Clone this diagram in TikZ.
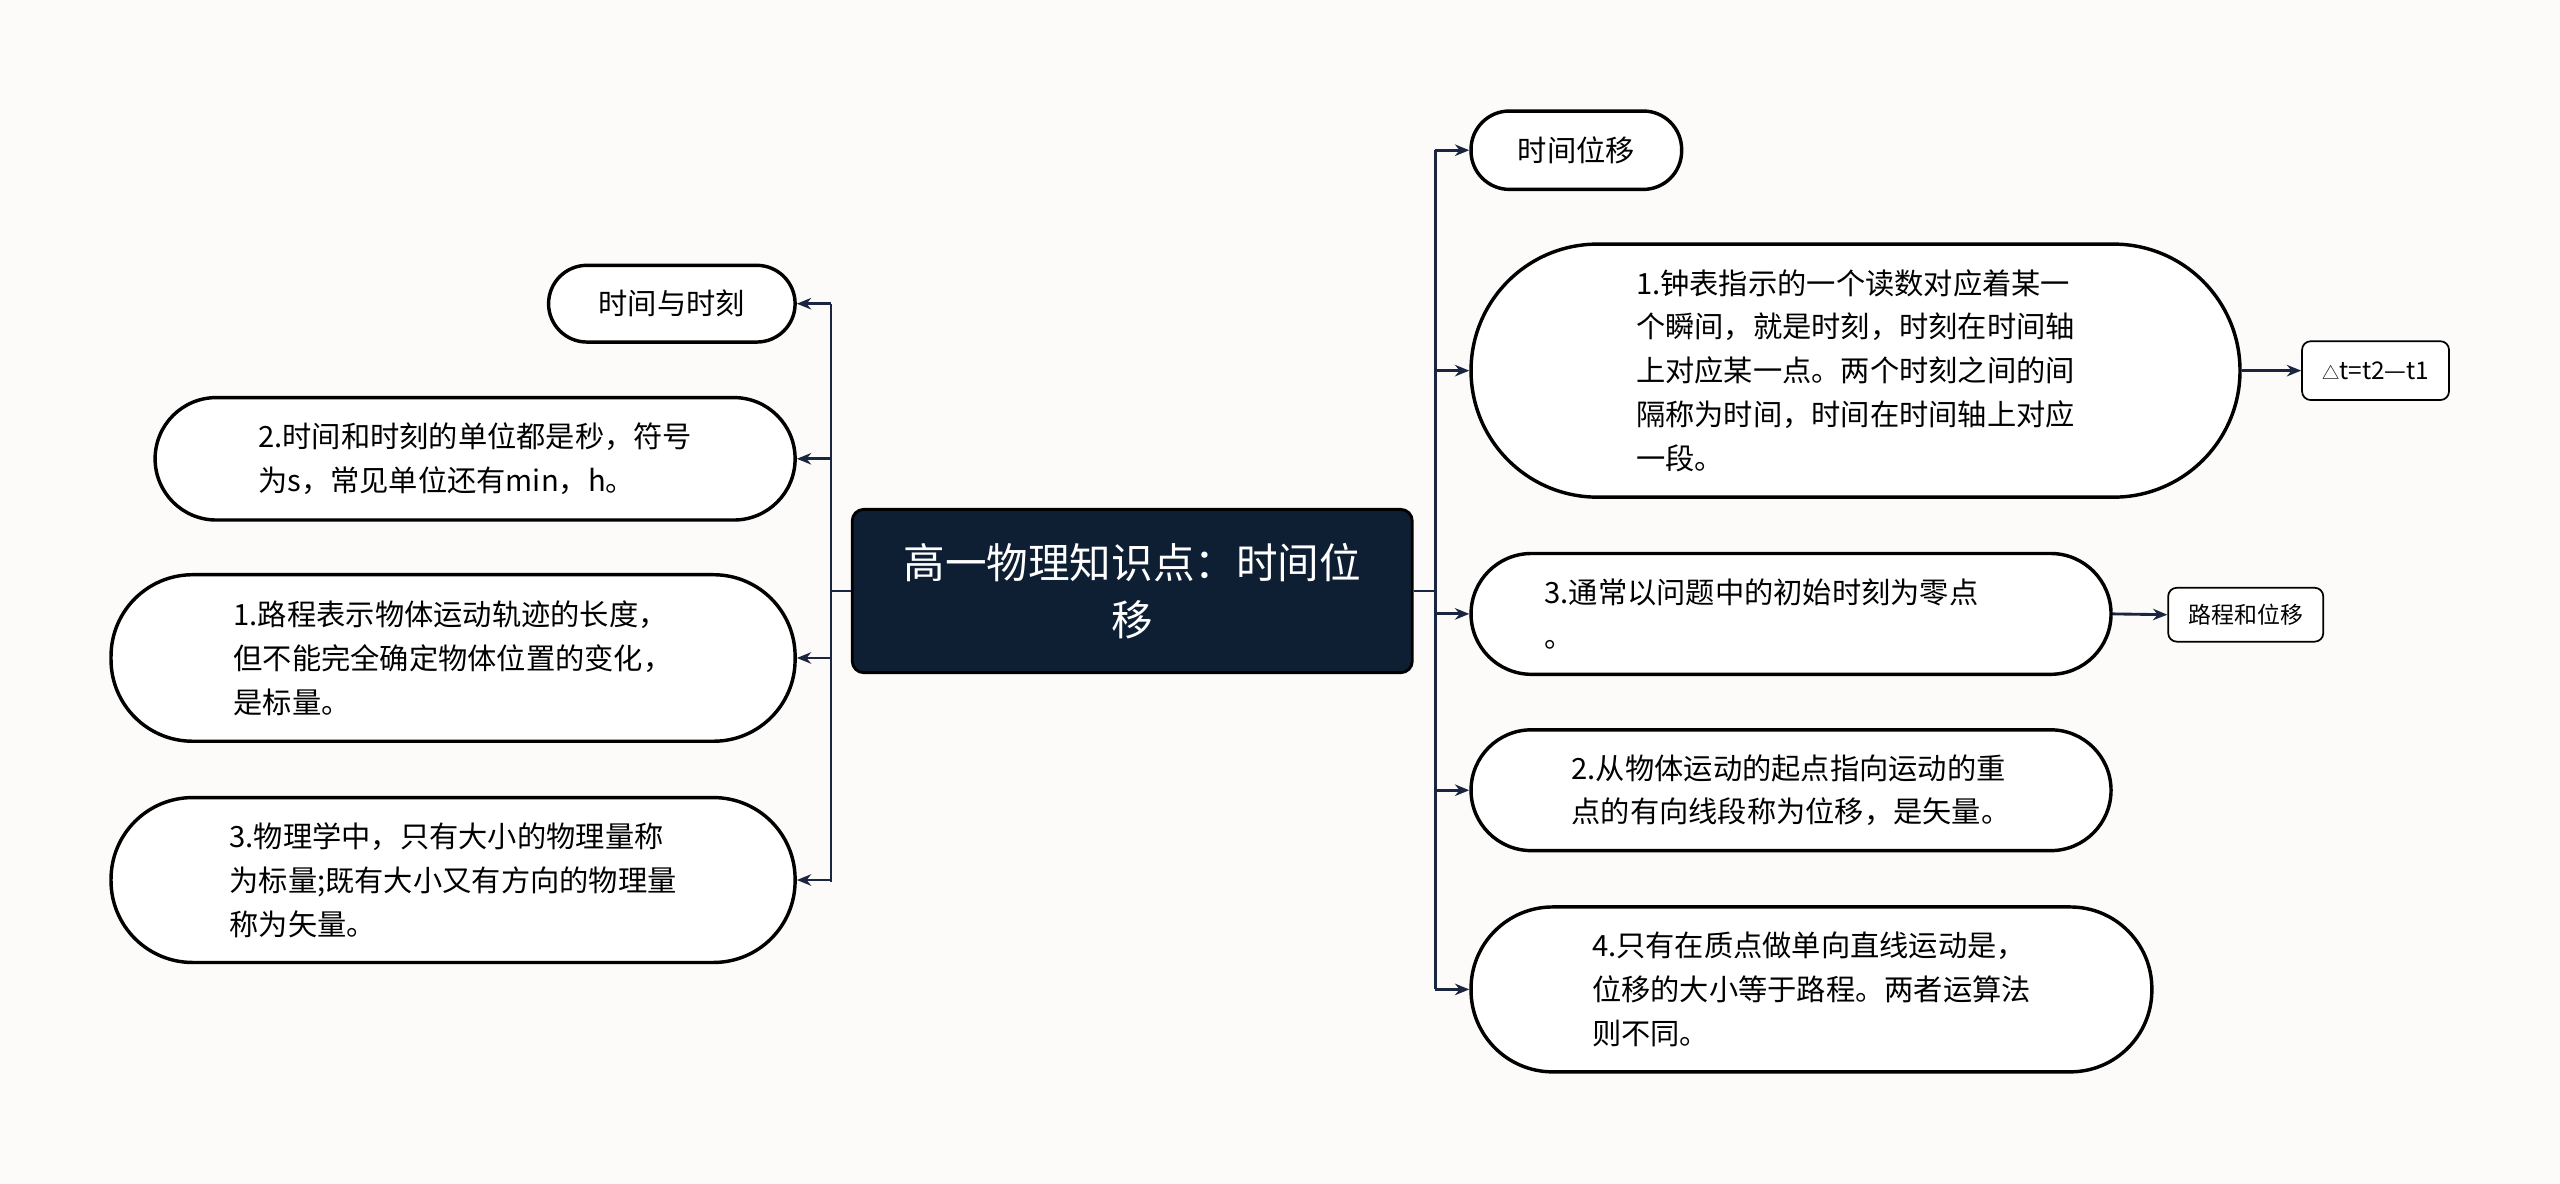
\documentclass[tikz,border=0pt]{standalone}
\usepackage{fontspec}
\setmainfont{Noto Sans CJK SC}
\usetikzlibrary{arrows.meta}
\definecolor{bg}{HTML}{FCFBF9}
\definecolor{navy}{HTML}{0F1F33}
\definecolor{ln}{HTML}{1A2540}
\begin{document}
\begin{tikzpicture}[x=0.02cm,y=-0.02cm,
  pill/.style={draw=black,line width=1.2pt,fill=white,rounded corners=#1,align=left,inner sep=0pt,font=\fontsize{10.2pt}{15.3pt}\selectfont},
  small/.style={draw=black,line width=0.6pt,fill=white,rounded corners=3pt,inner sep=3pt,font=\fontsize{8pt}{10pt}\selectfont},
  conn/.style={draw=ln,line width=1pt},
  arr/.style={conn,-{Stealth[length=5pt,width=4pt]}}]
\fill[bg] (0,0) rectangle (1568,725);
\node[fill=navy,draw=black,line width=1pt,rounded corners=4pt,minimum width=343*0.02cm,minimum height=100*0.02cm,text=white,align=center,font=\fontsize{14.5pt}{20pt}\selectfont] (c) at (693.5,362) {高一物理知识点：时间位\\移};
% left
\node[pill=0.47cm,minimum width=151*0.02cm,minimum height=47*0.02cm] (l1) at (411.5,186) {时间与时刻};
\node[pill=0.75cm,minimum width=392*0.02cm,minimum height=75*0.02cm] (l2) at (291,281) {2.时间和时刻的单位都是秒，符号\\为s，常见单位还有min，h。};
\node[pill=1.0cm,minimum width=419*0.02cm,minimum height=102*0.02cm] (l3) at (277.5,403) {1.路程表示物体运动轨迹的长度，\\但不能完全确定物体位置的变化，\\是标量。};
\node[pill=1.0cm,minimum width=419*0.02cm,minimum height=101*0.02cm] (l4) at (277.5,539) {3.物理学中，只有大小的物理量称\\为标量;既有大小又有方向的物理量\\称为矢量。};
\coordinate (lt) at (509,362);
\draw[conn] (c.west) -- (lt);
\draw[conn] (509,186) -- (509,540);
\foreach \n/\y in {l1/186,l2/281,l3/403,l4/539}
  \draw[arr] (509,\y) -- (\n.east);
% right
\node[pill=0.47cm,minimum width=129*0.02cm,minimum height=48*0.02cm] (r1) at (965.5,92) {时间位移};
\node[pill=1.55cm,minimum width=471*0.02cm,minimum height=155*0.02cm] (r2) at (1136.5,227) {1.钟表指示的一个读数对应着某一\\个瞬间，就是时刻，时刻在时间轴\\上对应某一点。两个时刻之间的间\\隔称为时间，时间在时间轴上对应\\一段。};
\node[pill=0.74cm,minimum width=392*0.02cm,minimum height=74*0.02cm,text width=302*0.02cm] (r3) at (1097,376) {3.通常以问题中的初始时刻为零点\\。};
\node[pill=0.74cm,minimum width=392*0.02cm,minimum height=74*0.02cm] (r4) at (1097,484) {2.从物体运动的起点指向运动的重\\点的有向线段称为位移，是矢量。};
\node[pill=1.0cm,minimum width=417*0.02cm,minimum height=101*0.02cm] (r5) at (1109.5,606) {4.只有在质点做单向直线运动是，\\位移的大小等于路程。两者运算法\\则不同。};
\draw[conn] (c.east) -- (879,362);
\draw[conn] (879,92) -- (879,606);
\foreach \n/\y in {r1/92,r2/227,r3/376,r4/484,r5/606}
  \draw[arr] (879,\y) -- (\n.west);
\node[small,minimum width=90*0.02cm,minimum height=36*0.02cm] (d1) at (1455,227) {\fontsize{6pt}{8pt}\selectfont△\fontsize{8.5pt}{10pt}\selectfont t=t2—t1};
\node[small,minimum width=95*0.02cm,minimum height=33*0.02cm] (d2) at (1375.5,376.5) {路程和位移};
\draw[arr] (r2.east) -- (d1.west);
\draw[arr] (r3.east) -- (d2.west);
\end{tikzpicture}
\end{document}
